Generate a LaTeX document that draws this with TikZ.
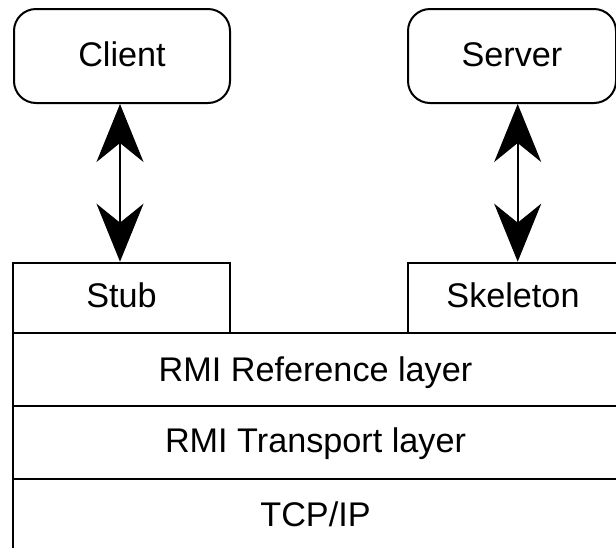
\documentclass[tikz,border=0pt]{standalone}
\usepackage{fontspec}
\setmainfont{Liberation Sans}
\usetikzlibrary{arrows.meta}

\tikzset{
  every node/.style={font=\fontsize{34.2}{40}\selectfont, text height=24pt, text depth=4pt, inner sep=0pt},
  endpoint/.style={draw, line width=2pt, rounded corners=22pt, minimum height=94pt},
  layerbox/.style={draw, line width=2pt, rectangle},
  dblarrow/.style={line width=2pt, {Stealth[length=58pt, width=47pt, inset=19pt]}-{Stealth[length=58pt, width=47pt, inset=19pt]}}
}

\begin{document}
\begin{tikzpicture}[x=1pt, y=-1pt]
  \useasboundingbox (0,0) rectangle (616,547);
  \clip (0,0) rectangle (616,547);

  % end points of the remote call
  \node[endpoint, minimum width=216pt] (client) at (122,56) {Client};
  \node[endpoint, minimum width=208pt] (server) at (512,56) {Server};

  % proxies on top of the protocol stack
  \node[layerbox, minimum width=217pt, minimum height=70pt] (stub) at (121.5,297.7) {Stub};
  \node[layerbox, minimum width=210pt, minimum height=70pt] (skeleton) at (513,297.7) {Skeleton};

  % protocol layers
  \node[layerbox, minimum width=605pt, minimum height=72.4pt, text depth=0pt] (reflayer) at (315.5,369.5) {RMI Reference layer};
  \node[layerbox, minimum width=605pt, minimum height=73.6pt] (translayer) at (315.5,442.5) {RMI Transport layer};
  \node[layerbox, minimum width=605pt, minimum height=74pt] (tcpip) at (315.5,516.3) {TCP/IP};

  % calls between end points and proxies
  \draw[dblarrow] ([xshift=-2pt]client.south) -- ([xshift=-2pt]client.south |- stub.north);
  \draw[dblarrow] ([xshift=5.7pt]server.south) -- ([xshift=5.7pt]server.south |- skeleton.north);
\end{tikzpicture}
\end{document}
